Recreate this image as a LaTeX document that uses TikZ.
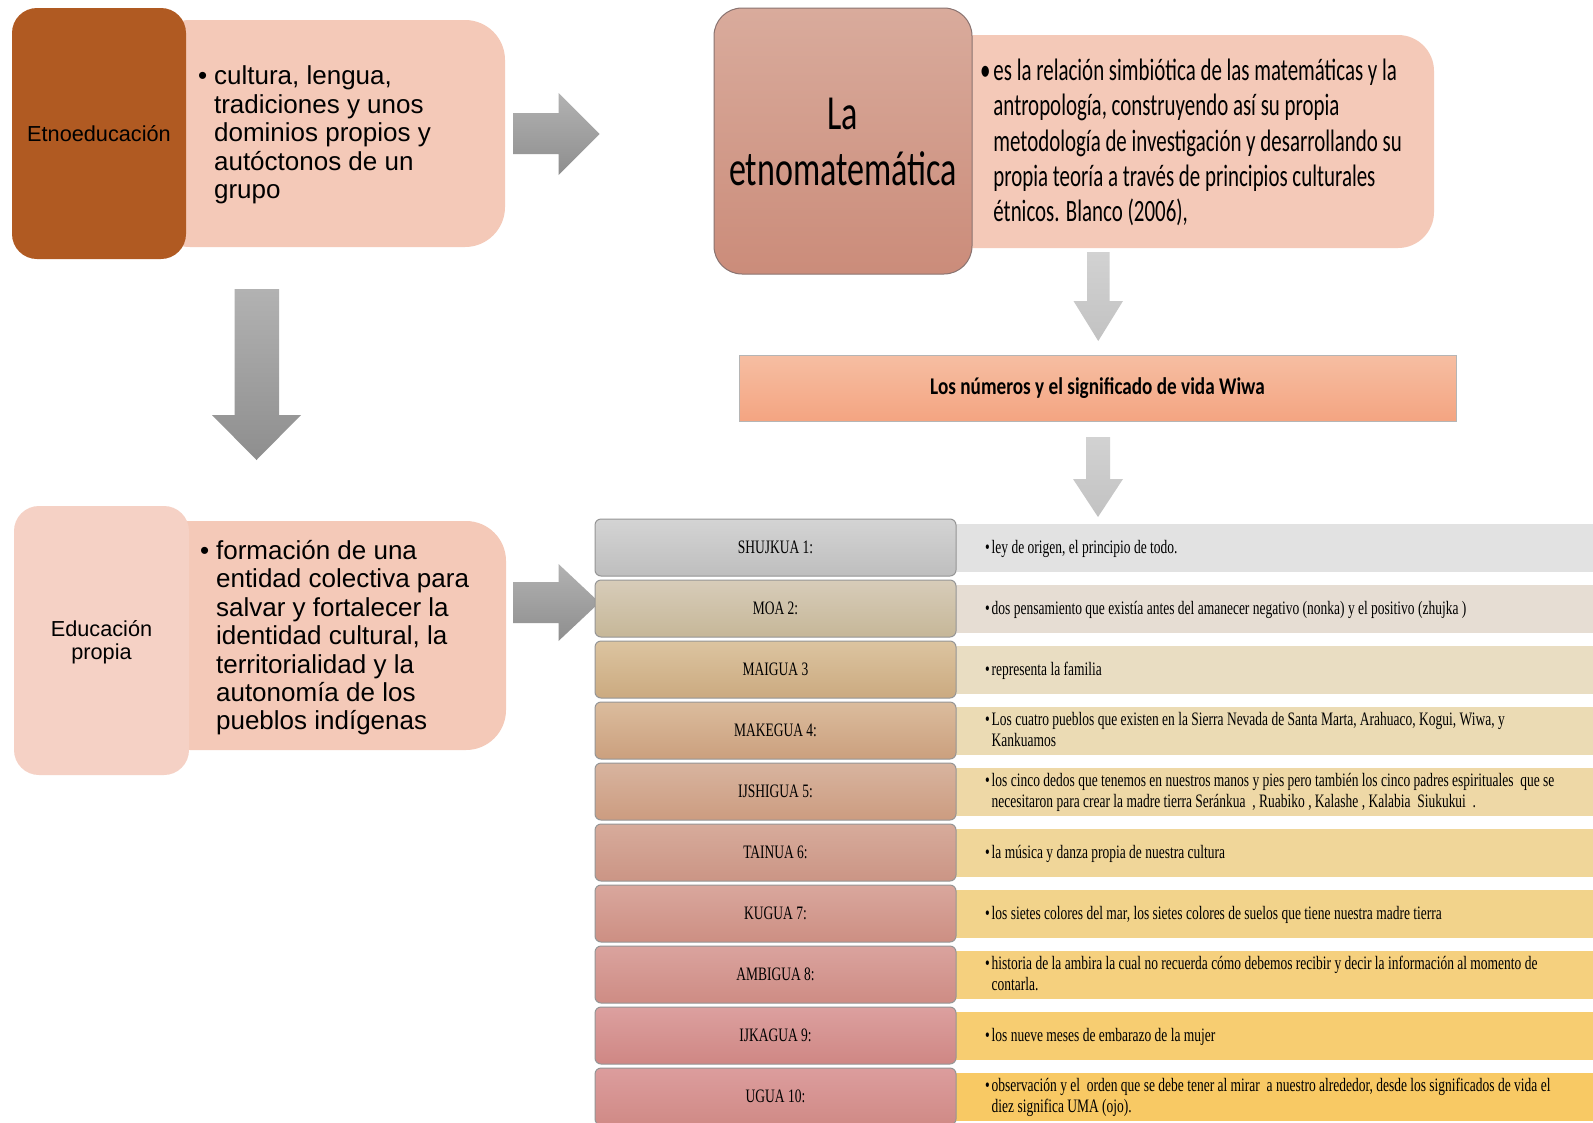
\documentclass[tikz,border=0pt]{standalone}
\usepackage{fontspec}
\setmainfont{Liberation Sans}
\newfontfamily\ttitle{Carlito}[FakeStretch=0.695]
\newfontfamily\tboxf{Carlito}[FakeStretch=0.675]
\newfontfamily\theadf{Carlito}[FakeStretch=0.8]
\newfontfamily\tms{Liberation Serif}[FakeStretch=0.71]
\definecolor{etnobrown}{HTML}{B05A22}
\definecolor{boxpink}{HTML}{F4C9B8}
\definecolor{edupink}{HTML}{F5D1C5}
\definecolor{arrtop}{HTML}{B2B2B2}
\definecolor{arrbot}{HTML}{8E8E8E}
\definecolor{larrtop}{HTML}{D2D2D2}
\definecolor{larrbot}{HTML}{C2C2C2}
\definecolor{etnotop}{HTML}{D9AB9C}
\definecolor{etnobot}{HTML}{CB8C7A}
\definecolor{etnoedge}{HTML}{8A7370}
\definecolor{headtop}{HTML}{F6BEA2}
\definecolor{headbot}{HTML}{F4A481}
\definecolor{celledge}{HTML}{959595}
\definecolor{lA1}{HTML}{D4D4D4}\definecolor{lB1}{HTML}{BEBEBE}\definecolor{rC1}{HTML}{E2E2E2}
\definecolor{lA2}{HTML}{D7CCB9}\definecolor{lB2}{HTML}{C6B798}\definecolor{rC2}{HTML}{E6DDD3}
\definecolor{lA3}{HTML}{DCC4A0}\definecolor{lB3}{HTML}{CBAA80}\definecolor{rC3}{HTML}{E9DDC2}
\definecolor{lA4}{HTML}{DBBC9D}\definecolor{lB4}{HTML}{CBA07E}\definecolor{rC4}{HTML}{EBDBB4}
\definecolor{lA5}{HTML}{D8B49F}\definecolor{lB5}{HTML}{CC9C80}\definecolor{rC5}{HTML}{EED8A6}
\definecolor{lA6}{HTML}{D7AB9B}\definecolor{lB6}{HTML}{CB9585}\definecolor{rC6}{HTML}{F0D699}
\definecolor{lA7}{HTML}{D9A79D}\definecolor{lB7}{HTML}{CD8F83}\definecolor{rC7}{HTML}{F2D38B}
\definecolor{lA8}{HTML}{DAA39E}\definecolor{lB8}{HTML}{CE8C84}\definecolor{rC8}{HTML}{F5D07E}
\definecolor{lA9}{HTML}{DCA09F}\definecolor{lB9}{HTML}{CF8784}\definecolor{rC9}{HTML}{F7CD71}
\definecolor{lA10}{HTML}{DC9D9D}\definecolor{lB10}{HTML}{D08A86}\definecolor{rC10}{HTML}{F8C964}
\newcommand\wrow[3]{%
  \pgfmathsetmacro\rtop{519+(#1-1)*61}%
  \node[rcell, fill=rC#1, anchor=north west] (r#1) at (956,{\rtop+5}) {};
  \node[lcell, top color=lA#1, bottom color=lB#1] (l#1) at (775.5,{\rtop+28.5}) {\tms\fontsize{19}{21.3}\selectfont #2};
  \node[anchor=west] (t#1) at (985,{\rtop+30}) {\tms\fontsize{19}{21.3}\selectfont\begin{tabular}{@{}l@{\hspace{2pt}}l@{}}#3\end{tabular}};
}
\begin{document}
\begin{tikzpicture}[x=1pt,y=-1pt,
  every node/.style={inner sep=0pt, outer sep=0pt},
  pinkbox/.style={fill=boxpink, rounded corners=40pt},
  rcell/.style={minimum width=640, minimum height=48},
  lcell/.style={draw=celledge, line width=1pt, rounded corners=6pt, minimum width=361, minimum height=57},
  darrow/.style={top color=arrtop, bottom color=arrbot},
  larrow/.style={top color=larrtop, bottom color=larrbot}]
\useasboundingbox (0,0) rectangle (1593,1122);
\clip (0,0) rectangle (1593,1122);
\fill[white] (0,0) rectangle (1593,1122);

% top-left block
\node[pinkbox, minimum width=355, minimum height=227, anchor=north west] (b1) at (150,20) {};
\node[fill=etnobrown, rounded corners=25pt, minimum width=174, minimum height=251] (etno) at (99,133.5) {\fontsize{21.7}{24}\selectfont Etnoeducación};
\node[anchor=west] (b1t) at (198,136) {\fontsize{26}{28.4}\selectfont\begin{tabular}{@{}l@{\hspace{7pt}}l@{}}•&cultura, lengua,\\&tradiciones y unos\\&dominios propios y\\&autóctonos de un\\&grupo\end{tabular}};

% arrow right 1
\shade[darrow] (513,113) -- (558.5,113) -- (558.5,93) -- (599.5,134) -- (558.5,175) -- (558.5,154) -- (513,154) -- cycle;
% arrow down left
\shade[darrow] (234.5,289) -- (279,289) -- (279,415) -- (301,415) -- (256.5,460) -- (212,415) -- (234.5,415) -- cycle;

% bottom-left block
\node[pinkbox, minimum width=356, minimum height=229, anchor=north west] (b2) at (150,521) {};
\node[fill=edupink, rounded corners=25pt, minimum width=175, minimum height=269] (edu) at (101.5,640.5) {};
\node (edut) at (101.5,643.5) {\fontsize{21.7}{23}\selectfont\begin{tabular}{@{}c@{}}Educación\\propia\end{tabular}};
\node[anchor=west] (b2t) at (200,639) {\fontsize{26}{28.4}\selectfont\begin{tabular}{@{}l@{\hspace{7pt}}l@{}}•&formación de una\\&entidad colectiva para\\&salvar y fortalecer la\\&identidad cultural, la\\&territorialidad y la\\&autonomía de los\\&pueblos indígenas\end{tabular}};

% arrow right 2
\shade[darrow] (513,582) -- (558.5,582) -- (558.5,564) -- (599.5,602.5) -- (558.5,641) -- (558.5,623) -- (513,623) -- cycle;

% top-right block
\node[fill=boxpink, rounded corners=36pt, minimum width=500, minimum height=213, anchor=north west] (b3) at (934,35) {};
\node[draw=etnoedge, line width=1pt, rounded corners=28pt, top color=etnotop, bottom color=etnobot, minimum width=258, minimum height=266] (etno2) at (843,141) {};
\node[align=center, font={\ttitle\fontsize{49}{56}\selectfont}] (etno2t) at (843,142) {La\\etnomatemática};
\node[anchor=west] (b3t) at (980,144) {\tboxf\fontsize{31}{35.3}\selectfont\begin{tabular}{@{}l@{\hspace{3pt}}l@{}}•&es la relación simbiótica de las matemáticas y la\\&antropología, construyendo así su propia\\&metodología de investigación y desarrollando su\\&propia teoría a través de principios culturales\\&étnicos. Blanco (2006),\end{tabular}};

% arrow down 3
\shade[larrow] (1087,252) -- (1109.5,252) -- (1109.5,301) -- (1123,301) -- (1098.25,341) -- (1073.5,301) -- (1087,301) -- cycle;

% header
\node[draw=celledge!70, line width=0.8pt, top color=headtop, bottom color=headbot, minimum width=717, minimum height=66] (head) at (1097.5,388.5) {\theadf\bfseries\fontsize{24}{26}\selectfont Los números y el significado de vida Wiwa};

% arrow down 4
\shade[larrow] (1086,437) -- (1110,437) -- (1110,479) -- (1123,479) -- (1098,517) -- (1073,479) -- (1086,479) -- cycle;

% table
\wrow{1}{SHUJKUA 1:}{•&ley de origen, el principio de todo.}
\wrow{2}{MOA 2:}{•&dos pensamiento que existía antes del amanecer negativo (nonka) y el positivo (zhujka )}
\wrow{3}{MAIGUA 3}{•&representa la familia}
\wrow{4}{MAKEGUA 4:}{•&Los cuatro pueblos que existen en la Sierra Nevada de Santa Marta, Arahuaco, Kogui, Wiwa, y\\&Kankuamos}
\wrow{5}{IJSHIGUA 5:}{•&los cinco dedos que tenemos en nuestros manos y pies pero también los cinco padres espirituales \ que se\\&necesitaron para crear la madre tierra Seránkua \ , Ruabiko , Kalashe , Kalabia \ Siukukui \ .}
\wrow{6}{TAINUA 6:}{•&la música y danza propia de nuestra cultura}
\wrow{7}{KUGUA 7:}{•&los sietes colores del mar, los sietes colores de suelos que tiene nuestra madre tierra}
\wrow{8}{AMBIGUA 8:}{•&historia de la ambira la cual no recuerda cómo debemos recibir y decir la información al momento de\\&contarla.}
\wrow{9}{IJKAGUA 9:}{•&los nueve meses de embarazo de la mujer}
\wrow{10}{UGUA 10:}{•&observación y el \ orden que se debe tener al mirar \ a nuestro alrededor, desde los significados de vida el\\&diez significa UMA (ojo).}
\end{tikzpicture}
\end{document}
